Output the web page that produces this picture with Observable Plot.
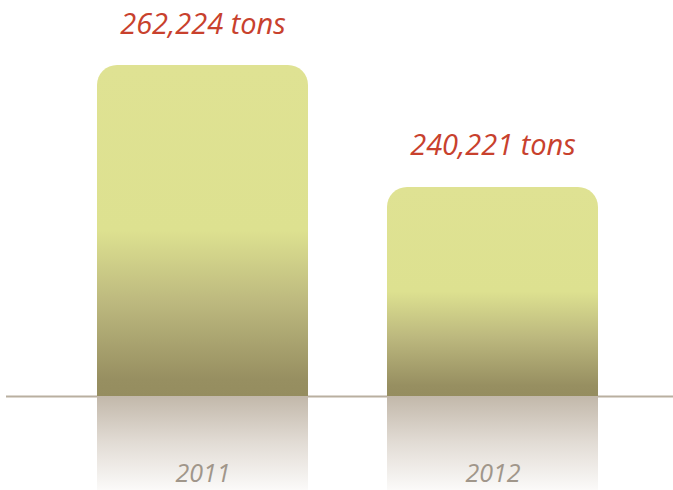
<!DOCTYPE html>
<html>
<head>
<meta charset="utf-8">
<script src="https://cdn.jsdelivr.net/npm/d3@7"></script>
<script src="https://cdn.jsdelivr.net/npm/@observablehq/plot@0.6"></script>
<style>
  html, body { margin: 0; padding: 0; background: #ffffff; }
  #chart svg { display: block; }
</style>
</head>
<body>
<div id="chart"></div>
<script>
const years = ["2011", "2012"];
const tons = [262224, 240221];
const unit = "tons";
const axisFloor = 202500; // estimated baseline value of the value axis

const data = years.map((year, i) => ({year, value: tons[i]}));
const fmt = d3.format(",");

const svg = Plot.plot({
  width: 673,
  height: 490,
  marginTop: 65,
  marginBottom: 94,
  marginLeft: 6,
  marginRight: 0,
  style: {background: "#ffffff", overflow: "hidden"},
  x: {domain: years, range: [18, 677], padding: 0.272, axis: null},
  y: {domain: [axisFloor, d3.max(tons)], axis: null},
  marks: [
    Plot.ruleY([axisFloor], {stroke: "#b9afa0", strokeWidth: 2}),
    // reflections (mirror of each bar below the baseline)
    Plot.barY(data, {
      x: "year",
      y1: () => axisFloor,
      y2: d => 2 * axisFloor - d.value,
      fill: "url(#reflGrad)",
      clip: false
    }),
    // bars with rounded tops
    Plot.barY(data, {
      x: "year",
      y1: () => axisFloor,
      y2: "value",
      fill: "url(#barGrad)",
      ry1: 20
    }),
    Plot.text(data, {
      x: "year",
      y: "value",
      text: d => `${fmt(d.value)} ${unit}`,
      lineAnchor: "bottom",
      dy: -32,
      fill: "#c8412d",
      fontSize: 29,
      fontStyle: "italic",
      fontFamily: "'Open Sans', sans-serif"
    }),
    Plot.text(years, {
      x: d => d,
      text: d => d,
      frameAnchor: "bottom",
      lineAnchor: "bottom",
      dy: 85,
      fill: "#a0968a",
      fontSize: 25,
      fontStyle: "italic",
      fontFamily: "'Open Sans', sans-serif"
    })
  ]
});

const ns = "http://www.w3.org/2000/svg";
const defs = document.createElementNS(ns, "defs");
defs.innerHTML = `
  <linearGradient id="barGrad" x1="0" y1="0" x2="0" y2="1">
    <stop offset="0" stop-color="#dfe293"/>
    <stop offset="0.5" stop-color="#dde190"/>
    <stop offset="0.72" stop-color="#bcb87e"/>
    <stop offset="0.95" stop-color="#978f61"/>
    <stop offset="1" stop-color="#958d5f"/>
  </linearGradient>
  <linearGradient id="reflGrad" gradientUnits="userSpaceOnUse" x1="0" y1="396" x2="0" y2="490">
    <stop offset="0" stop-color="#c2b8aa"/>
    <stop offset="0.5" stop-color="#e2dcd5"/>
    <stop offset="1" stop-color="#fbfaf9"/>
  </linearGradient>`;
svg.insertBefore(defs, svg.firstChild);

document.getElementById("chart").appendChild(svg);
</script>
</body>
</html>
